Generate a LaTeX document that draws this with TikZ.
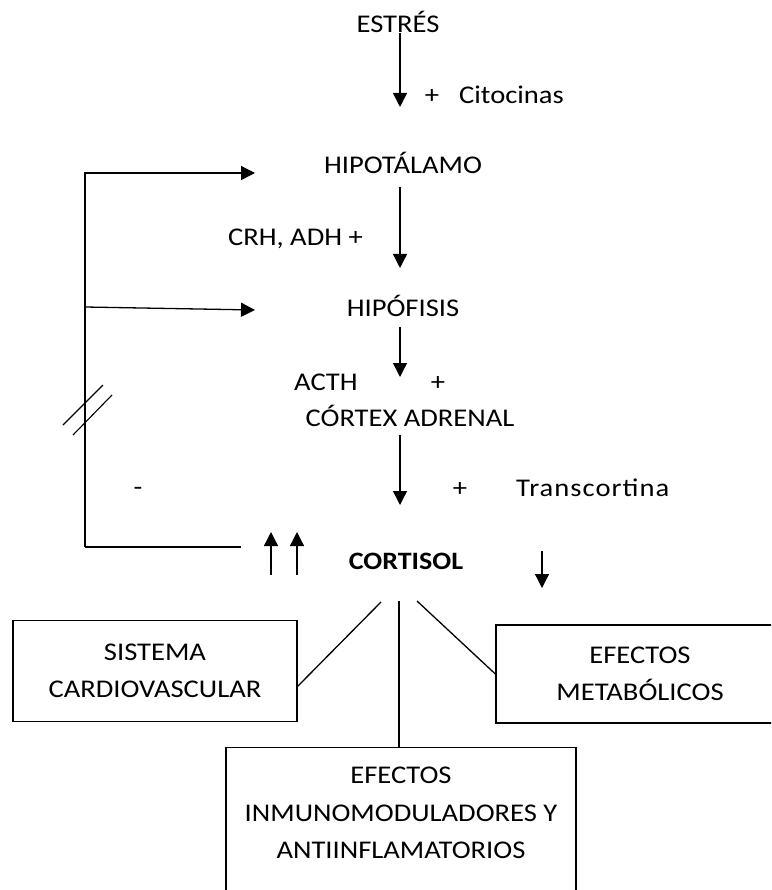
\documentclass[tikz,border=0pt]{standalone}
\usepackage{fontspec}
\setmainfont{Carlito}[FakeStretch=1.12]
\usetikzlibrary{arrows.meta}

\tikzset{
  lbl/.style={inner sep=0pt, text height=16pt, text depth=0pt},
  arr/.style={-{Triangle[length=14pt, width=14pt]}, line width=1.3pt},
  box/.style={draw, line width=1.3pt, inner sep=0pt, align=center},
}

\begin{document}
\begin{tikzpicture}[x=1pt, y=-1pt, font=\fontsize{25.5}{37.5}\selectfont]
  \useasboundingbox (0,0) rectangle (771,890);
  \clip (0,0) rectangle (771,890);

  % Eje central
  \node[lbl] (estres) at (398,25) {ESTRÉS};
  \node[lbl] (hipot) at (403,166) {HIPOTÁLAMO};
  \node[lbl] (hipof) at (403,308) {HIPÓFISIS};
  \node[lbl] (cortex) at (410,418) {CÓRTEX ADRENAL};
  \node[lbl, font=\fontsize{25}{30}\selectfont\bfseries] (cortisol) at (406,561) {CORTISOL};

  \node[lbl] (mas1) at (432,96) {+};
  \node[lbl, anchor=west] (citoc) at (459,96) {Citocinas};
  \node[lbl, anchor=east] (crh) at (363,238) {CRH, ADH +};
  \node[lbl, anchor=west] (acth) at (294,382) {ACTH};
  \node[lbl] (mas2) at (438,382) {+};
  \node[lbl] (menos) at (138,487) {-};
  \node[lbl] (mas3) at (460,488) {+};
  \node[lbl, anchor=west, font=\fontsize{25.5}{30}\selectfont\addfontfeatures{LetterSpace=4}] (transc) at (516,488) {Transcortina};

  \coordinate (t1) at (400,107);
  \coordinate (t2) at (400,268);
  \coordinate (t3) at (400,377);
  \coordinate (t4) at (400,505);
  \draw[arr] (estres.south -| t1) -- (t1);
  \draw[arr] ([yshift=-13pt]hipot.south -| t2) -- (t2);
  \draw[arr] ([yshift=-11pt]hipof.south -| t3) -- (t3);
  \draw[arr] ([yshift=-9pt]cortex.south -| t4) -- (t4);

  % Retroalimentacion negativa
  \coordinate (fb0) at (241,547);
  \coordinate (fbL) at (85,547);
  \coordinate (fbM) at (85,307);
  \coordinate (tipH) at (255,173);
  \coordinate (tipP) at (255,310);
  \draw[line width=1.3pt] (fb0) -- (fbL);
  \draw[arr] (fbL) |- (tipH);
  \draw[arr] (fbM) -- (tipP);
  \draw[line width=1.1pt] (63,425) -- (103,385);
  \draw[line width=1.1pt] (73,435) -- (112,395);

  % Flechas junto a cortisol
  \coordinate (up1) at (271,532);
  \coordinate (up2) at (297,532);
  \coordinate (dn1) at (542,588);
  \draw[arr] (271,575) -- (up1);
  \draw[arr] (297,575) -- (up2);
  \draw[arr] (542,551) -- (dn1);

  % Efectos
  \node[box, minimum width=284pt, minimum height=101pt] (cardio) at (155,671) {SISTEMA\\CARDIOVASCULAR};
  \node[box, minimum width=288pt, minimum height=98pt] (metab) at (640,674) {EFECTOS\\METABÓLICOS};
  \node[box, minimum width=350pt, minimum height=200pt, anchor=north] (inmbox) at (401,747) {};
  \node[align=center, inner sep=0pt] (inmtxt) at (401,813) {EFECTOS\\INMUNOMODULADORES Y\\ANTIINFLAMATORIOS};

  \coordinate (cl) at (381,602);
  \coordinate (cm) at (399,601);
  \coordinate (cr) at (417,601);
  \draw[line width=1.3pt] (cl) -- (297,687);
  \draw[line width=1.3pt] (cm) -- (cm |- inmbox.north);
  \draw[line width=1.3pt] (cr) -- (metab.west);
\end{tikzpicture}
\end{document}
